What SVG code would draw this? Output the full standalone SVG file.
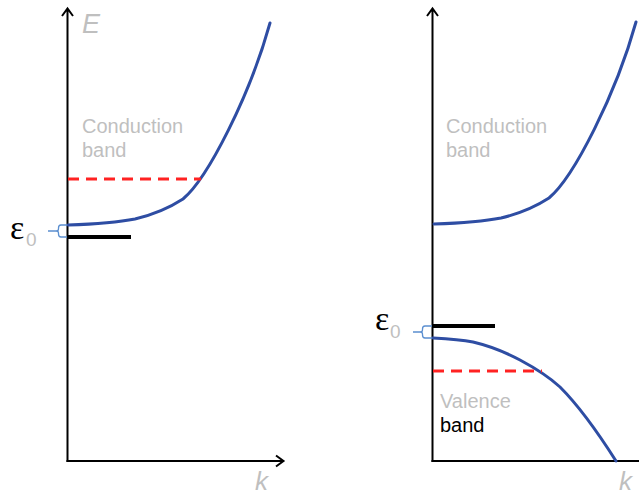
<svg xmlns="http://www.w3.org/2000/svg" width="639" height="497" viewBox="0 0 639 497">
<style>
.axis{stroke:#000;stroke-width:2;fill:none}
.band{stroke:#2e4da3;stroke-width:3;fill:none;stroke-linecap:round}
.dash{stroke:#ff2222;stroke-width:3;stroke-dasharray:11 7;fill:none}
.level{stroke:#000;stroke-width:4}
.brace{stroke:#5b8fd0;stroke-width:1.3;fill:none}
.lbl{font-family:"Liberation Sans",Arial,sans-serif;font-size:20px;fill:#bfbfbf}
.ax{font-family:"Liberation Sans",Arial,sans-serif;font-style:italic;fill:#bfbfbf}
.eps{font-family:"Liberation Serif","Times New Roman",serif;font-size:34px;fill:#000}
.sub{font-family:"Liberation Sans",Arial,sans-serif;font-size:19px;fill:#bfbfbf}
</style>
<rect width="639" height="497" fill="#fff"/>
<g id="axes">
  <path class="axis" d="M67.5,462 V9 M62,16 L67.5,8.5 L73,16"/>
  <path class="axis" d="M66.5,461 H283 M276,455.5 L283.5,461 L276,466.5"/>
  <path class="axis" d="M432.5,462 V9 M427,16 L432.5,8.5 L438,16"/>
  <path class="axis" d="M431.5,461 H639"/>
  <text class="ax" x="82" y="33" font-size="27">E</text>
  <text class="ax" x="255" y="490" font-size="26">k</text>
  <text class="ax" x="619" y="490" font-size="26">k</text>
</g>
<g id="left-conduction">
  <path class="band" d="M68,225 C100,224 120,222 135,219 C152,215 166,210 183,199 C208,178 250,95 270,23"/>
  <text class="lbl" x="82" y="133">Conduction</text>
  <text class="lbl" x="82" y="157">band</text>
</g>
<g id="left-levels">
  <line class="dash" x1="68" y1="179" x2="201" y2="179"/>
  <line class="level" x1="68" y1="237" x2="131" y2="237"/>
  <path class="brace" d="M67,225 H61 Q58.5,225 58.5,228 V229 Q58.5,231 56,231 H48 M56,231 Q58.5,231 58.5,233 V234 Q58.5,237 61,237 H67"/>
  <text class="eps" x="10" y="239">ε</text>
  <text class="sub" x="26" y="246">0</text>
</g>
<g id="right-conduction">
  <path class="band" transform="translate(366,-1)" d="M68,225 C100,224 120,222 135,219 C152,215 166,210 183,199 C208,178 250,95 270,23"/>
  <text class="lbl" x="446" y="133">Conduction</text>
  <text class="lbl" x="446" y="157">band</text>
</g>
<g id="right-valence">
  <path class="band" d="M433,338 C450,339 462,340 473,342 C490,346 505,352 520,360 C535,368 548,376 560,387 C575,402 590,420 616,461"/>
  <line class="dash" x1="433" y1="371" x2="542" y2="371"/>
  <line class="level" x1="433" y1="326" x2="495" y2="326"/>
  <path class="brace" d="M432,326 H425 Q422.5,326 422.5,329 V330 Q422.5,332 420,332 H413 M420,332 Q422.5,332 422.5,334 V335 Q422.5,338 425,338 H432"/>
  <text class="eps" x="375" y="330">ε</text>
  <text class="sub" x="390" y="338">0</text>
  <text class="lbl" x="440" y="408">Valence</text>
  <text class="lbl" x="440" y="432" style="fill:#000">band</text>
</g>
</svg>
